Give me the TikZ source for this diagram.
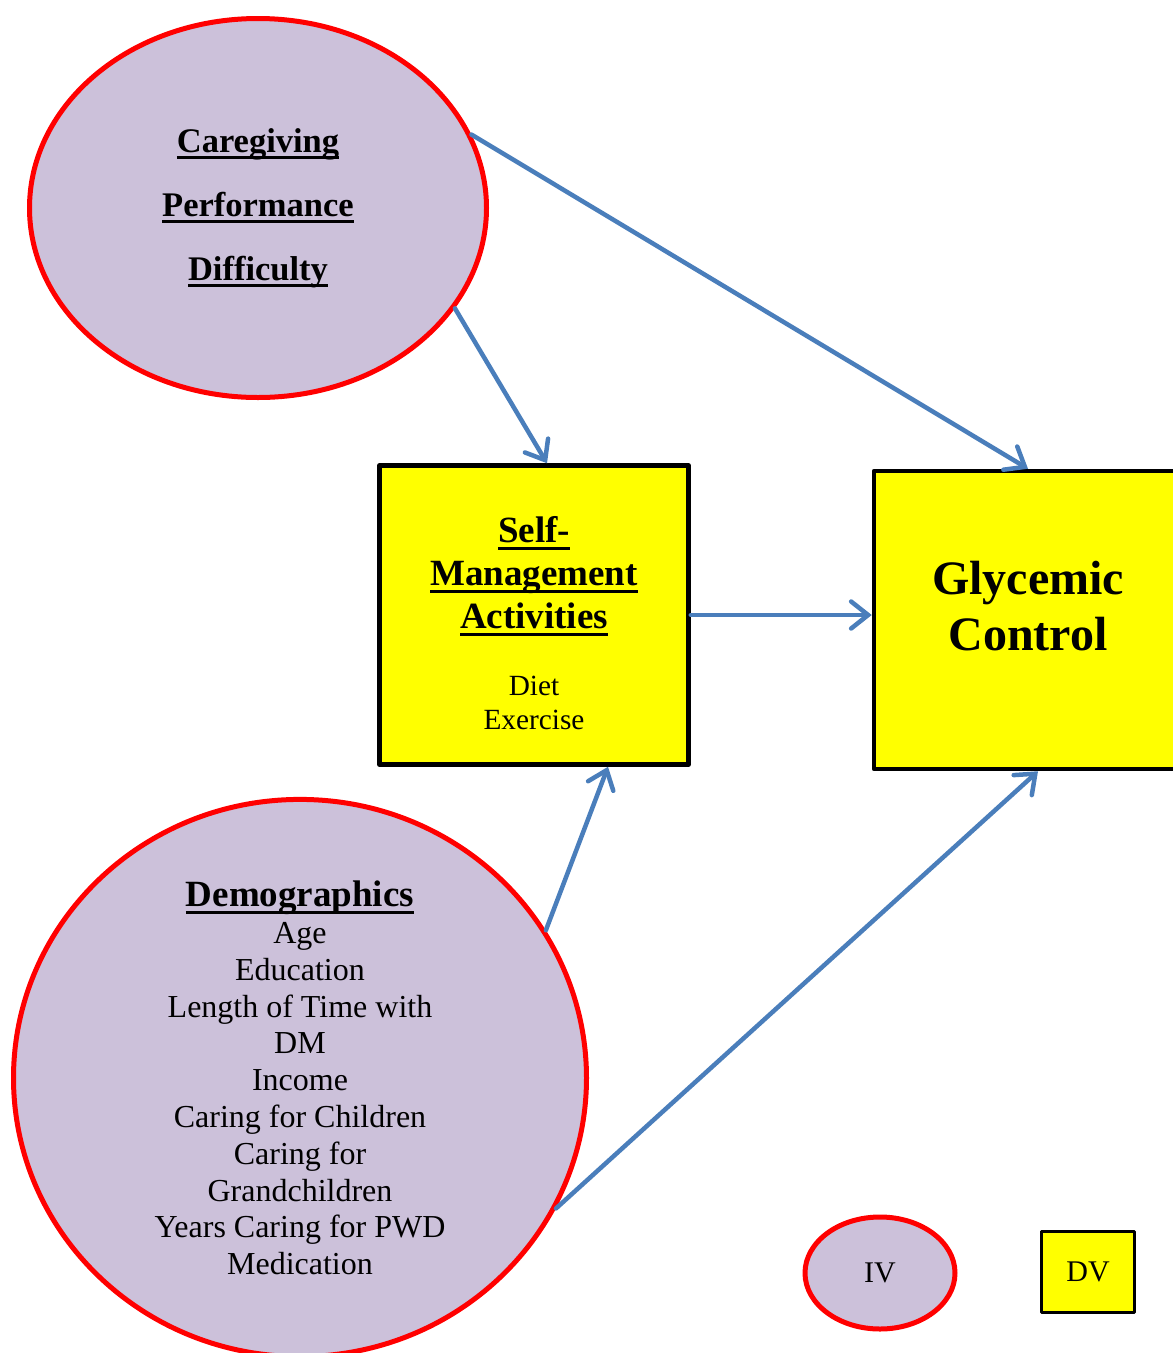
\documentclass[tikz,border=0pt]{standalone}
\usepackage{fontspec}
\setmainfont{Liberation Serif}
\usetikzlibrary{shapes.geometric,arrows.meta}
\definecolor{ivfill}{RGB}{204,193,218}
\definecolor{ivline}{RGB}{255,0,0}
\definecolor{pathblue}{RGB}{74,126,187}
\definecolor{dvfill}{RGB}{255,255,0}
% thick underline for the headings
\newcommand{\ulhead}[1]{\leavevmode\setbox0\hbox{#1}\rlap{\rule[-7pt]{\wd0}{3pt}}\box0}
\begin{document}
\begin{tikzpicture}[x=1pt,y=-1pt,line join=round,
	iv/.style={ellipse,draw=ivline,fill=ivfill,line width=5pt,inner sep=0pt,align=center},
	dv/.style={rectangle,draw=black,fill=dvfill,line width=4.5pt,inner sep=0pt},
	boxtext/.style={align=center,inner sep=0pt},
	link/.style={draw=pathblue,line width=4.5pt,line cap=round,-{Straight Barb[length=17pt,width=27pt,line cap=round]}}]
	\useasboundingbox (0,0) rectangle (1173,1353);
	\clip (0,0) rectangle (1173,1353);
	% independent variables
	\node[iv,minimum width=457,minimum height=379,font={\fontsize{34.5}{64}\selectfont\bfseries}] (cg) at (258,208)
		{\ulhead{Caregiving}\\\ulhead{Performance}\\\ulhead{Difficulty}};
	\node[iv,minimum width=573,minimum height=556,font={\fontsize{32}{36.8}\selectfont}] (demo) at (300,1078)
		{{\fontsize{37}{36.8}\selectfont\bfseries\ulhead{Demographics}}\\Age\\Education\\Length of Time with\\DM\\Income\\Caring for Children\\Caring for\\Grandchildren\\Years Caring for PWD\\Medication};
	% dependent variables
	\node[dv,minimum width=309,minimum height=299] (sma) at (534,615) {};
	\node[boxtext,font={\fontsize{37}{43}\selectfont\bfseries}] (smahead) at (534,576)
		{\ulhead{Self-}\\\ulhead{Management}\\\ulhead{Activities}};
	\node[boxtext,font={\fontsize{29.3}{34}\selectfont}] (smaitems) at (534,703) {Diet\\Exercise};
	\node[dv,minimum width=308,minimum height=298] (gc) at (1028,620) {};
	\node[boxtext,font={\fontsize{48}{56}\selectfont\bfseries}] (gctext) at (1028,606) {Glycemic\\Control};
	% paths
	\draw[link] (cg.19) -- (gc.north);
	\draw[link] (cg.-27) -- ([xshift=13]sma.north);
	\draw[link] (sma.east) -- (sma.east -| gc.west);
	\draw[link] (demo.31) -- ([xshift=74]sma.south);
	\draw[link] (demo.-27) -- ([xshift=10]gc.south);
	% legend
	\node[iv,minimum width=150,minimum height=112,font={\fontsize{30}{36}\selectfont}] (ivkey) at (880,1273) {IV};
	\node[dv,line width=3.5pt,minimum width=93,minimum height=81,font={\fontsize{30}{36}\selectfont}] (dvkey) at (1088,1272) {DV};
\end{tikzpicture}
\end{document}
